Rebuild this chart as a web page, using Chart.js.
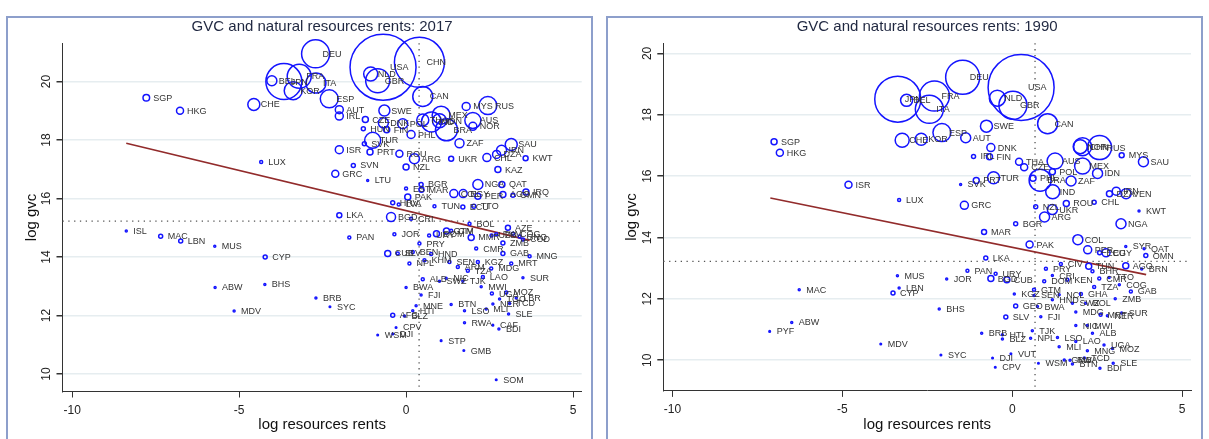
<!DOCTYPE html>
<html>
<head>
<meta charset="utf-8">
<script src="https://cdn.jsdelivr.net/npm/chart.js@4/dist/chart.umd.min.js"></script>
<style>
  body { margin: 0; background: #fff; width: 1209px; height: 439px; overflow: hidden; position: relative; }
  .frame { position: absolute; top: 16px; height: 440px; border: 2px solid #8d9fcb; box-sizing: border-box; }
  .box { position: absolute; top: 18px; height: 421px; }
</style>
</head>
<body>
<div class="frame" style="left:6px;width:587px"></div>
<div class="frame" style="left:606px;width:597px"></div>
<div class="box" style="left:8px;width:583px"><canvas id="gvc2017"></canvas></div>
<div class="box" style="left:608px;width:593px"><canvas id="gvc1990"></canvas></div>
<script>
// ---- 2017 panel ----
const codes17 = [
  'SGP','HKG','CHE','LUX','BEL','JPN','KOR','FRA','DEU','ITA',
  'USA','CHN','NLD','GBR','ESP','CAN','AUT','IRL','SWE','CZE',
  'DNK','POL','HUN','FIN','PHL','TUR','SVK','ISR','PRT','ROU',
  'ARG','UKR','CHL','SVN','NZL','GRC','LTU','KAZ','KWT','SAU',
  'IRN','DZA','ZAF','MYS','RUS','THA','IND','IDN','MEX','AUS',
  'NOR','BRA','BGR','EST','MAR','PAK','HRV','LVA','TUN','ECU',
  'TTO','NGA','QAT','COL','EGY','PER','AGO','OMN','IRQ','LKA',
  'BGD','CRI','BOL','AZE','PAN','JOR','URY','DOM','GTM','CIV',
  'MMR','UZB','TKM','COG','GNQ','COD','PRY','CMR','ZMB','CUB',
  'SLV','BEN','HND','GAB','MNG','MRT','NPL','KHM','SEN','KGZ',
  'ARM','TZA','MDG','LAO','SUR','ALB','SWZ','NIC','TJK','MWI',
  'BWA','UGA','MOZ','TGO','LBR','TCD','NER','MLI','SLE','LSO',
  'BTN','MNE','HTI','FJI','AFG','BLZ','RWA','CAF','BDI','CPV',
  'DJI','WSM','STP','GMB','SOM','BRB','SYC','ISL','MAC','LBN',
  'MUS','CYP','ABW','BHS','MDV'
];
const rents17 = [
  -7.78,-6.77,-4.56,-4.34,-4.02,-3.66,-3.38,-3.20,-2.71,-2.70,
  -0.69,0.40,-1.06,-0.85,-2.30,0.50,-2.00,-2.00,-0.65,-1.22,
  -0.68,-0.10,-1.28,-0.58,0.15,-1.00,-1.25,-2.00,-1.08,-0.20,
  0.25,1.35,2.42,-1.58,0.00,-2.12,-1.15,2.75,3.58,3.15,
  2.86,2.71,1.60,1.80,2.45,0.50,0.76,1.00,1.05,2.00,
  2.00,1.21,0.45,0.00,0.46,0.05,-0.40,-0.22,0.85,1.70,
  2.03,2.15,2.87,1.43,1.71,2.15,2.90,3.20,3.59,-2.00,
  -0.45,0.15,1.90,3.05,-1.70,-0.35,0.69,0.91,1.21,1.35,
  1.95,2.56,2.70,3.20,3.40,3.50,0.40,2.10,2.90,-0.55,
  -0.25,0.20,0.75,2.90,3.70,3.15,0.10,0.55,1.30,2.15,
  1.55,1.85,2.55,2.30,3.50,0.50,1.00,1.20,1.70,2.25,
  0.00,2.57,3.00,2.80,3.30,3.10,2.60,2.40,3.07,1.75,
  1.35,0.30,0.20,0.45,-0.40,-0.05,1.75,2.60,2.78,-0.30,
  -0.40,-0.85,1.05,1.73,2.70,-2.70,-2.28,-8.38,-7.35,-6.75,
  -5.73,-4.22,-5.72,-4.23,-5.15
];
const gvc17 = [
  19.45,19.00,19.22,17.25,20.03,20.00,19.69,20.18,20.95,19.95,
  20.49,20.66,20.26,20.03,19.41,19.49,19.04,18.82,19.01,18.70,
  18.59,18.56,18.39,18.35,18.19,17.99,17.87,17.67,17.59,17.53,
  17.36,17.36,17.40,17.13,17.08,16.85,16.62,16.99,17.38,17.85,
  17.65,17.51,17.89,19.15,19.18,18.69,18.62,18.66,18.85,18.67,
  18.47,18.35,16.48,16.34,16.30,16.05,15.86,15.80,15.74,15.71,
  15.74,16.48,16.48,16.17,16.17,16.08,16.14,16.11,16.22,15.43,
  15.37,15.31,15.14,15.00,14.67,14.78,14.74,14.80,14.89,14.90,
  14.67,14.74,14.78,14.80,14.70,14.60,14.46,14.29,14.48,14.12,
  14.12,14.17,14.10,14.12,14.03,13.78,13.78,13.89,13.83,13.83,
  13.66,13.53,13.61,13.32,13.29,13.24,13.17,13.27,13.17,12.98,
  12.96,12.75,12.79,12.56,12.60,12.41,12.39,12.22,12.05,12.16,
  12.38,12.33,12.16,12.70,12.01,11.98,11.75,11.67,11.54,11.59,
  11.37,11.33,11.14,10.80,9.80,12.60,12.30,14.89,14.71,14.55,
  14.37,14.00,12.96,13.06,12.15
];
// marker weight (drawn as bubble radius)
const weight17 = [
  3.3,3.5,6,1.5,5,18,9,12,14,10,
  33,25,7,12,9,10,4,4,5.5,3,
  5,5,2,3,4,8,2,4,3,3.5,
  5,2.5,4,2,3,3.5,1,3,2.5,6,
  5,4,4.5,4,9,6,10,7,9,8,
  4,11,2,1.5,2.5,3,2,1.5,1.5,2,
  2,5,3,4,4,3,3,2,3,2.5,
  4.5,1.5,1.5,2.5,1.5,1.5,1.5,3,3,1.5,
  3,1.5,1.5,1.5,1.5,1.5,1.5,1.5,2,3,
  1.5,1.5,1.5,2,1.5,1.5,1.5,1.5,1.5,1.5,
  1.5,1.5,1.5,1.5,1,1.5,1,1,1,1,
  1,1.5,1.5,1,1,1,1,1,1,1,
  1,1,1,1,2,1,1,0.8,1,0.8,
  0.8,0.8,0.8,0.8,0.8,1,0.8,1,2,2,
  1,2,1,1,1
];
const fitX17 = [-8.38, 3.70];
const fitY17 = [17.89, 14.57];
const meanRents17 = 0.39, meanGvc17 = 15.23;

// ---- 1990 panel ----
const codes90 = [
  'SGP','HKG','ISR','LUX','JPN','BEL','CHE','KOR','FRA','ITA',
  'DEU','USA','NLD','GBR','ESP','AUT','SWE','CAN','DNK','FIN',
  'IRL','THA','CZE','AUS','POL','MEX','IDN','NOR','CHN','RUS',
  'MYS','SAU','PHL','BRA','ZAF','IND','TUR','PRT','SVK','GRC',
  'CHL','ROU','NZL','UKR','KWT','ARG','BGR','NGA','MAR','COL',
  'PAK','PER','ECU','EGY','DZA','IRN','VEN','SYR','QAT','OMN',
  'LKA','AGO','BRN','PAN','URY','PRY','CIV','BHR','TUN','JOR',
  'BGD','CUB','DOM','CRI','KEN','CMR','TTO','COG','GAB','ZMB',
  'KGZ','GTM','SEN','HND','NCL','GHA','TZA','SWZ','BOL','GEO',
  'BWA','BHS','SLV','FJI','MDG','MRT','NER','SUR','NIC','MWI',
  'ALB','TJK','BRB','HTI','BLZ','NPL','LSO','MLI','LAO','MNG',
  'UGA','MOZ','SYC','DJI','VUT','CPV','WSM','GMB','RWA','TCD',
  'BTN','BDI','SLE','MUS','LBN','CYP','MAC','ABW','PYF','MDV'
];
const rents90 = [
  -7.01,-6.84,-4.82,-3.33,-3.37,-3.11,-3.24,-2.68,-2.29,-2.44,
  -1.46,0.26,-0.44,0.02,-2.07,-1.37,-0.76,1.04,-0.63,-0.67,
  -1.14,0.20,0.35,1.26,1.18,2.07,2.51,2.00,2.07,2.57,
  3.22,3.86,0.61,0.82,1.73,1.19,-0.55,-1.06,-1.52,-1.41,
  2.41,1.59,0.69,1.18,3.73,0.95,0.10,3.20,-0.83,1.93,
  0.51,2.22,2.57,2.76,2.86,3.06,3.35,3.34,3.88,3.93,
  -0.78,3.34,3.81,-1.32,-0.49,0.99,1.43,2.36,2.25,-1.93,
  -0.63,-0.16,0.94,1.18,1.62,2.56,2.85,3.15,3.49,3.03,
  0.06,0.64,0.64,1.18,1.38,2.02,2.41,1.77,2.16,0.10,
  0.74,-2.15,-0.19,0.84,1.87,2.60,2.80,3.22,1.87,2.21,
  2.36,0.59,-0.90,-0.29,-0.29,0.54,1.33,1.38,1.87,2.21,
  2.70,2.95,-2.10,-0.58,-0.04,-0.50,0.77,1.53,1.70,2.12,
  1.77,2.58,2.97,-3.38,-3.33,-3.51,-6.27,-6.49,-7.14,-3.87
];
const gvc90 = [
  17.12,16.76,15.72,15.22,18.51,18.47,17.17,17.20,18.61,18.18,
  19.22,18.89,18.54,18.31,17.42,17.25,17.63,17.71,16.93,16.63,
  16.64,16.47,16.29,16.49,16.14,16.33,16.09,16.96,16.96,16.93,
  16.68,16.47,15.93,15.87,15.84,15.49,15.95,15.86,15.73,15.05,
  15.15,15.11,15.00,14.91,14.86,14.67,14.45,14.45,14.18,13.93,
  13.77,13.60,13.50,13.50,15.43,15.51,15.43,13.71,13.63,13.41,
  13.33,13.08,12.97,12.92,12.82,12.98,13.14,12.90,13.06,12.65,
  12.66,12.62,12.57,12.76,12.62,12.66,12.70,12.46,12.24,12.00,
  12.16,12.30,12.11,11.97,12.13,12.16,12.39,11.86,11.86,11.77,
  11.75,11.67,11.41,11.42,11.57,11.48,11.45,11.54,11.13,11.13,
  10.88,10.96,10.88,10.83,10.69,10.72,10.74,10.44,10.61,10.31,
  10.50,10.38,10.17,10.07,10.21,9.77,9.90,10.01,10.00,10.07,
  9.88,9.74,9.90,12.75,12.35,12.19,12.30,11.23,10.94,10.53
];
const weight90 = [
  3,3.5,3.5,1.5,23,6,7,6,15,14,
  17,33,8,14,9,5,6,10,4,3,
  2,3.5,3.5,8,3,8,5,7,9,12,
  2.5,5,3,11,5,7,6,3,1,4,
  2,3,2,5,1,5,2,5,2.5,5,
  3.5,4,2,4,3,4,5,1,1,2,
  2,3,1,1.5,1.5,1.5,1.5,1.5,3,1,
  3,3,1.5,1,1.5,1.5,1,1,1.5,1,
  1,1.5,1,1,1,1.5,1.5,1,1,2,
  1,1,2,1,1,1.5,1,1,1,1,
  1,1,1,1,1,1,1,1,1,1,
  1,1,0.8,0.8,0.8,0.8,0.8,1,1,1,
  1,1,1,1,1,2,1,1,0.8,0.8
];
const fitX90 = [-7.12, 3.94];
const fitY90 = [15.29, 12.79];
const meanRents90 = 0.67, meanGvc90 = 13.22;

const xTicks = [-10, -5, 0, 5];
const yTicks = [10, 12, 14, 16, 18, 20];

Chart.defaults.font.family = "'Liberation Sans', Arial, sans-serif";

// country codes next to each marker + dotted mean lines
const isoLabels = {
  id: 'isoLabels',
  beforeDatasetsDraw(chart, args, opts) {
    const {ctx, chartArea: a, scales: {x, y}} = chart;
    const mx = x.getPixelForValue(opts.xMean);
    const my = y.getPixelForValue(opts.yMean);
    ctx.save();
    ctx.strokeStyle = '#555';
    ctx.lineWidth = 1.3;
    ctx.setLineDash([1.3, 4.5]);
    ctx.beginPath();
    ctx.moveTo(mx, a.top); ctx.lineTo(mx, a.bottom);
    ctx.moveTo(a.left, my); ctx.lineTo(a.right, my);
    ctx.stroke();
    ctx.restore();
  },
  afterDatasetsDraw(chart, args, opts) {
    const ctx = chart.ctx;
    const meta = chart.getDatasetMeta(0);
    ctx.save();
    ctx.font = "9px 'Liberation Sans', Arial, sans-serif";
    ctx.fillStyle = '#333';
    ctx.textBaseline = 'middle';
    meta.data.forEach((pt, i) => ctx.fillText(opts.codes[i], pt.x + 7, pt.y + 0.5));
    ctx.restore();
  }
};

function noPad(s) {
  s.paddingTop = 0; s.paddingBottom = 0; s.paddingLeft = 0; s.paddingRight = 0;
}

function panel(id, p) {
  return new Chart(document.getElementById(id), {
    type: 'bubble',
    data: {
      datasets: [
        {
          data: p.codes.map((c, i) => ({x: p.xs[i], y: p.ys[i], r: p.ws[i]})),
          backgroundColor: 'transparent',
          borderColor: '#1414ff',
          borderWidth: 1.5,
          clip: false
        },
        {
          type: 'line',
          data: p.fitX.map((v, i) => ({x: v, y: p.fitY[i]})),
          borderColor: '#922b2b',
          borderWidth: 1.6,
          pointRadius: 0,
          fill: false
        }
      ]
    },
    options: {
      responsive: true,
      maintainAspectRatio: false,
      animation: false,
      events: [],
      layout: {autoPadding: false, padding: {left: 0, right: p.padRight, top: 0, bottom: 0}},
      plugins: {
        legend: {display: false},
        tooltip: {enabled: false},
        title: {
          display: true, text: p.title, fullSize: false,
          color: '#1f2740', font: {size: 15, weight: 'normal'},
          padding: {top: 0, bottom: 7.3}
        },
        isoLabels: {codes: p.codes, xMean: p.xMean, yMean: p.yMean}
      },
      scales: {
        x: {
          type: 'linear', min: p.xMin, max: p.xMax,
          afterBuildTicks: s => { s.ticks = xTicks.map(v => ({value: v})); },
          afterFit: s => { s.height = p.xAxisH; noPad(s); },
          grid: {drawOnChartArea: false, tickLength: 6, tickColor: '#333'},
          border: {color: '#333'},
          ticks: {color: '#222', font: {size: 12}, padding: 6, maxRotation: 0},
          title: {display: true, text: 'log resources rents', color: '#111', font: {size: 15}, padding: {top: 0, bottom: 4.8}}
        },
        y: {
          type: 'linear', min: p.yMin, max: p.yMax,
          afterBuildTicks: s => { s.ticks = yTicks.map(v => ({value: v})); },
          afterFit: s => { s.width = p.yAxisW; noPad(s); },
          grid: {color: '#e6edf0', lineWidth: 1.5, tickLength: 6, tickColor: '#333'},
          border: {color: '#333'},
          ticks: {color: '#222', font: {size: 12}, padding: 3, minRotation: 90, maxRotation: 90, crossAlign: 'center'},
          title: {display: true, text: 'log gvc', color: '#111', font: {size: 15}, padding: {top: p.yTitlePad, bottom: 0}}
        }
      }
    },
    plugins: [isoLabels]
  });
}

panel('gvc2017', {
  title: 'GVC and natural resources rents: 2017',
  codes: codes17, xs: rents17, ys: gvc17, ws: weight17,
  fitX: fitX17, fitY: fitY17, xMean: meanRents17, yMean: meanGvc17,
  xMin: -10.29, xMax: 5.26, yMin: 9.40, yMax: 21.31,
  padRight: 9.3, xAxisH: 47.5, yAxisW: 54.5, yTitlePad: 14.5
});

panel('gvc1990', {
  title: 'GVC and natural resources rents: 1990',
  codes: codes90, xs: rents90, ys: gvc90, ws: weight90,
  fitX: fitX90, fitY: fitY90, xMean: meanRents90, yMean: meanGvc90,
  xMin: -10.27, xMax: 5.26, yMin: 9.00, yMax: 20.33,
  padRight: 10, xAxisH: 48.1, yAxisW: 55.3, yTitlePad: 15
});
</script>
</body>
</html>
